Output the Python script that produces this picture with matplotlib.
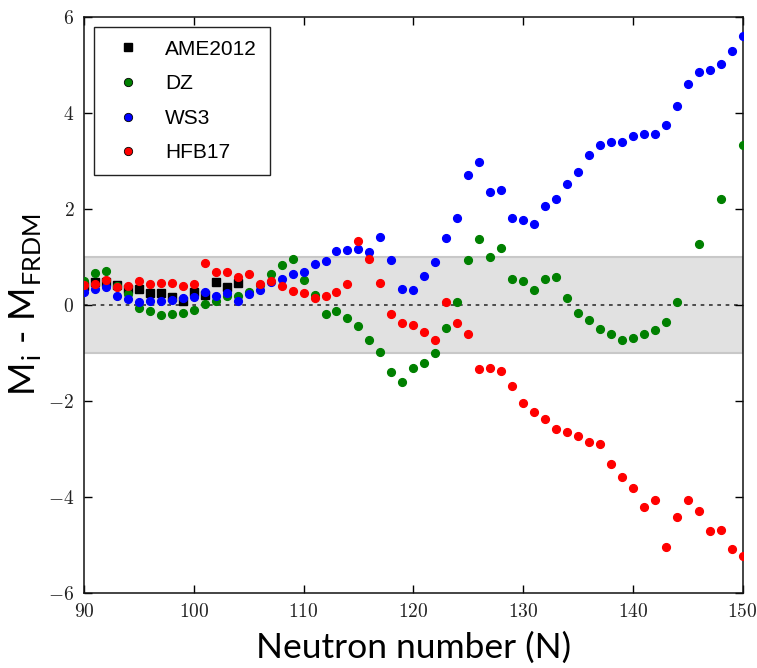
import matplotlib
matplotlib.use("Agg")
import matplotlib.pyplot as plt
from matplotlib.lines import Line2D
import numpy as np

plt.rcParams['mathtext.fontset'] = 'cm'

# AME2012 (measured), N = 90..104
n_ame = np.arange(90, 105)
ame = [0.38, 0.47, 0.48, 0.42, 0.32, 0.33, 0.25, 0.24, 0.17, 0.08,
       0.26, 0.21, 0.47, 0.36, 0.45]

# DZ, N = 90..144, then 146, 148, 150
n_dz = list(range(90, 145)) + [146, 148, 150]
dz = [0.49, 0.66, 0.71, 0.40, 0.22, -0.07, -0.14, -0.22, -0.19, -0.18,
      -0.11, 0.01, 0.07, 0.19, 0.19, 0.26, 0.42, 0.64, 0.83, 0.95,
      0.52, 0.21, -0.19, -0.14, -0.28, -0.44, -0.73, -0.99, -1.40, -1.61,
      -1.31, -1.21, -1.01, -0.49, 0.05, 0.93, 1.37, 0.99, 1.18, 0.54,
      0.50, 0.31, 0.53, 0.58, 0.15, -0.17, -0.32, -0.51, -0.62, -0.74,
      -0.69, -0.60, -0.52, -0.36, 0.06, 1.26, 2.21, 3.33]

# WS3 and HFB17, N = 90..150
n_all = np.arange(90, 151)
ws3 = [0.27, 0.33, 0.36, 0.19, 0.11, 0.06, 0.08, 0.08, 0.10, 0.14,
       0.17, 0.26, 0.19, 0.24, 0.07, 0.22, 0.31, 0.47, 0.54, 0.65,
       0.68, 0.85, 0.92, 1.11, 1.15, 1.16, 1.09, 1.42, 0.94, 0.33,
       0.31, 0.59, 0.88, 1.40, 1.81, 2.71, 2.97, 2.35, 2.40, 1.81,
       1.76, 1.69, 2.05, 2.21, 2.52, 2.77, 3.12, 3.33, 3.40, 3.40,
       3.51, 3.56, 3.56, 3.74, 4.15, 4.60, 4.84, 4.90, 5.01, 5.28, 5.59]
hfb17 = [0.41, 0.43, 0.51, 0.37, 0.40, 0.49, 0.43, 0.45, 0.45, 0.38,
         0.43, 0.87, 0.69, 0.69, 0.58, 0.65, 0.44, 0.49, 0.40, 0.28,
         0.24, 0.15, 0.19, 0.26, 0.44, 1.33, 0.96, 0.46, -0.19, -0.38,
         -0.42, -0.57, -0.73, 0.05, -0.38, -0.62, -1.33, -1.32, -1.39, -1.69,
         -2.05, -2.24, -2.38, -2.58, -2.65, -2.73, -2.85, -2.91, -3.31, -3.59,
         -3.82, -4.21, -4.07, -5.05, -4.43, -4.06, -4.30, -4.71, -4.69, -5.08, -5.24]

x_ticks = [90, 100, 110, 120, 130, 140, 150]
y_ticks = [-6, -4, -2, 0, 2, 4, 6]

fig = plt.figure(figsize=(7.57, 6.68), dpi=100)
ax = fig.add_axes([0.111, 0.1127, 0.870, 0.8623])

# band of +-1 MeV and zero line
ax.axhspan(-1, 1, facecolor='#e1e1e1', edgecolor='#c8c8c8', linewidth=1.5, zorder=0)
ax.axhline(0, color='#333333', linewidth=1.2, linestyle=(0, (2.2, 2.8)), zorder=1)

ax.plot(n_ame, ame, 's', color='black', ms=6, mec='black', zorder=2)
ax.plot(n_dz, dz, 'o', color='#008000', ms=5.6, mec='#008000', zorder=3)
ax.plot(n_all, ws3, 'o', color='#0000ff', ms=5.6, mec='#0000ff', zorder=4)
ax.plot(n_all, hfb17, 'o', color='#ff0000', ms=5.6, mec='#ff0000', zorder=5)

ax.set_xlim(90, 150)
ax.set_ylim(-6, 6)
ax.set_xticks(x_ticks)
ax.set_yticks(y_ticks)
ax.set_xticklabels(['$%d$' % v for v in x_ticks])
ax.set_yticklabels(['$%d$' % v for v in y_ticks])
ax.tick_params(direction='in', length=6, width=1, top=True, right=True,
               labelsize=14, labelcolor='#222222', pad=7)
for s in ax.spines.values():
    s.set_linewidth(1.1)
    s.set_color('#111111')

ax.set_xlabel('Neutron number (N)', family='Lato', fontsize=25.5, labelpad=7)
ax.set_ylabel(r'M$_\mathregular{i}$ - M$_\mathregular{FRDM}$', family='Lato',
              fontsize=26, labelpad=3)

handles = [
    Line2D([], [], ls='none', marker='s', color='black', ms=6),
    Line2D([], [], ls='none', marker='o', color='#008000', mec='black', mew=0.6, ms=6),
    Line2D([], [], ls='none', marker='o', color='#0000ff', mec='black', mew=0.6, ms=6),
    Line2D([], [], ls='none', marker='o', color='#ff0000', mec='black', mew=0.6, ms=6),
]
leg = ax.legend(handles, ['AME2012', 'DZ', 'WS3', 'HFB17'], loc='upper left',
                prop={'family': 'Liberation Sans', 'size': 15}, fancybox=False,
                framealpha=1, edgecolor='#222222', labelspacing=0.75,
                borderpad=0.6, numpoints=1)
leg.get_frame().set_linewidth(1.0)

fig.savefig('out.png', dpi=100)
